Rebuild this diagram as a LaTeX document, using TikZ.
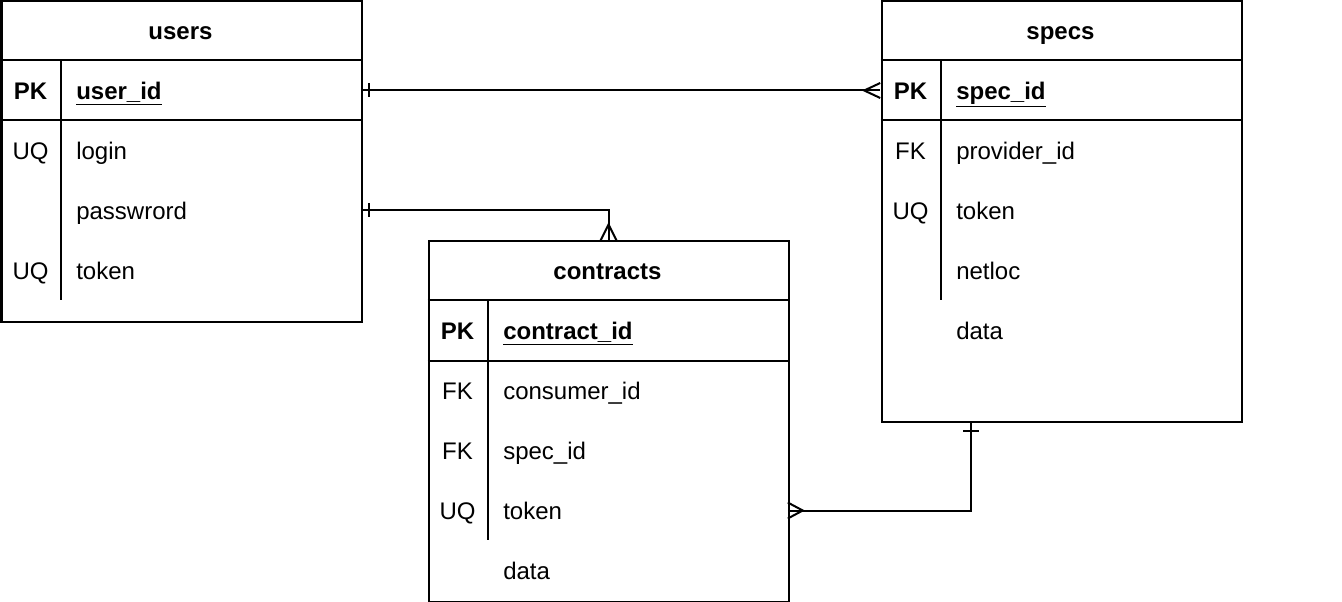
\documentclass[tikz,border=0pt]{standalone}
\usepackage{fontspec}
\setmainfont{Liberation Sans}
\usetikzlibrary{calc}
\tikzset{
  ln/.style={line width=1.5pt},
  tbl/.style={draw, line width=1.5pt, inner sep=0pt, minimum width=270pt, anchor=north west},
  rowbox/.style={inner sep=0pt, minimum width=270pt, minimum height=45pt},
  txt/.style={inner sep=0pt, anchor=base west, font=\fontsize{18}{22}\selectfont},
  key/.style={inner sep=0pt, anchor=base, font=\fontsize{18}{22}\selectfont},
  hdr/.style={inner sep=0pt, anchor=base, font=\fontsize{18}{22}\selectfont\bfseries},
  conn/.style={line width=1.5pt}
}
\begin{document}
\begin{tikzpicture}[x=0.75pt,y=-0.75pt]
\useasboundingbox (0,0) rectangle (1342,602);
% ---------- users ----------
\node[tbl, minimum height=240pt] (users) at (0.5,0.5) {};
\node[rowbox] (uPK) at (180.5,90.5) {};
\node[rowbox] (uPass) at (180.5,210.5) {};
\draw[ln] (users.west |- 0,60.5) -- (users.east |- 0,60.5);
\draw[ln] (users.west |- 0,120.5) -- (users.east |- 0,120.5);
\draw[ln] (60.5,60.5) -- (60.5,300);
\node[hdr] (uH) at (180.5,39.6) {users};
\node[hdr] (uPKk) at (30.5,99.6) {PK};
\node[hdr, anchor=base west] (uPKn) at (76,99.6) {\underline{user\_id}};
\node[key] (uK1) at (30.5,159.6) {UQ};
\node[txt] (uN1) at (76,159.6) {login};
\node[txt] (uN2) at (76,219.6) {passwrord};
\node[key] (uK3) at (30.5,279.6) {UQ};
\node[txt] (uN3) at (76,279.6) {token};
% ---------- specs ----------
\node[tbl, minimum height=315pt] (specs) at (880.5,0.5) {};
\node[rowbox] (sPK) at (1060.5,90.5) {};
\draw[ln] (specs.west |- 0,60.5) -- (specs.east |- 0,60.5);
\draw[ln] (specs.west |- 0,120.5) -- (specs.east |- 0,120.5);
\draw[ln] (940.5,60.5) -- (940.5,300);
\node[hdr] (sH) at (1060.5,39.6) {specs};
\node[hdr] (sPKk) at (910.5,99.6) {PK};
\node[hdr, anchor=base west] (sPKn) at (956,99.6) {\underline{spec\_id}};
\node[key] (sK1) at (910.5,159.6) {FK};
\node[txt] (sN1) at (956,159.6) {provider\_id};
\node[key] (sK2) at (910.5,219.6) {UQ};
\node[txt] (sN2) at (956,219.6) {token};
\node[txt] (sN3) at (956,279.6) {netloc};
\node[txt] (sN4) at (956,339.6) {data};
% ---------- contracts ----------
\node[tbl, minimum height=270pt] (contracts) at (427.5,240.5) {};
\node[rowbox] (cTok) at (607.5,510.5) {};
\draw[ln] (contracts.west |- 0,300.5) -- (contracts.east |- 0,300.5);
\draw[ln] (contracts.west |- 0,360.5) -- (contracts.east |- 0,360.5);
\draw[ln] (487.5,300.5) -- (487.5,540);
\node[hdr] (cH) at (607.5,279.6) {contracts};
\node[hdr] (cPKk) at (457.5,339.6) {PK};
\node[hdr, anchor=base west] (cPKn) at (503,339.6) {\underline{contract\_id}};
\node[key] (cK1) at (457.5,399.6) {FK};
\node[txt] (cN1) at (503,399.6) {consumer\_id};
\node[key] (cK2) at (457.5,459.6) {FK};
\node[txt] (cN2) at (503,459.6) {spec\_id};
\node[key] (cK3) at (457.5,519.6) {UQ};
\node[txt] (cN3) at (503,519.6) {token};
\node[txt] (cN4) at (503,579.6) {data};
% ---------- connectors ----------
% users.user_id -> specs.spec_id
\draw[conn] (uPK.east) -- (sPK.west);
\draw[conn] ($(uPK.east)+(8,-7)$) -- ($(uPK.east)+(8,7)$);
\draw[conn] ($(sPK.west)+(0,-7.5)$) -- ($(sPK.west)+(-16,0)$) -- ($(sPK.west)+(0,7.5)$);
% users.password -> contracts
\draw[conn] (uPass.east) -| (contracts.north);
\draw[conn] ($(uPass.east)+(8,-7)$) -- ($(uPass.east)+(8,7)$);
\draw[conn] ($(contracts.north)+(-8,0)$) -- ($(contracts.north)+(0,-16)$) -- ($(contracts.north)+(8,0)$);
% contracts.token -> specs
\coordinate (sB) at ($(specs.south west)!0.25!(specs.south east)$);
\draw[conn] (cTok.east) -| (sB);
\draw[conn] ($(sB)+(-8,8)$) -- ($(sB)+(8,8)$);
\draw[conn] ($(cTok.east)+(0,-8)$) -- ($(cTok.east)+(15,0)$) -- ($(cTok.east)+(0,8)$);
\end{tikzpicture}
\end{document}
